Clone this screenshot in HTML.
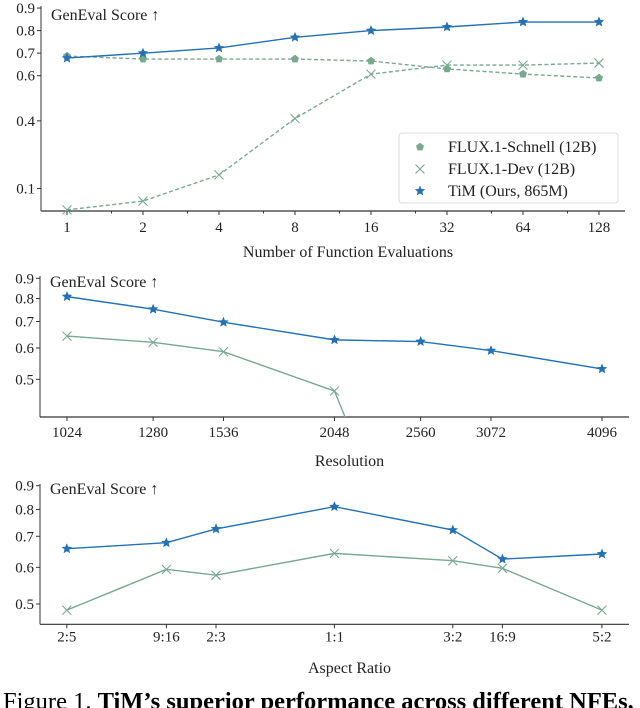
<!DOCTYPE html>
<html><head><meta charset="utf-8"><style>
html,body{margin:0;padding:0;background:#fff;}
svg{display:block;font-family:"Liberation Serif",serif;}
</style></head><body>
<svg id="fig" width="640" height="708" viewBox="0 0 640 708" xmlns="http://www.w3.org/2000/svg">
<defs>
<clipPath id="c2"><rect x="40" y="270" width="590" height="147"/></clipPath>
</defs>
<text x="3" y="709" font-size="24.5">Figure 1.  <tspan font-weight="bold">TiM’s superior performance across different NFEs.</tspan></text>
</svg>
<script>
// ---- Chart 1: NFE ----
const nfeSteps = [1, 2, 4, 8, 16, 32, 64, 128];
const nfeTickLabels = ["1", "2", "4", "8", "16", "32", "64", "128"];
const nfeTim = [0.678, 0.70, 0.723, 0.77, 0.80, 0.816, 0.838, 0.838];
const nfeSchnell = [0.687, 0.674, 0.674, 0.674, 0.665, 0.63, 0.607, 0.59];
const nfeDev = [0.005, 0.044, 0.16, 0.41, 0.607, 0.647, 0.647, 0.656];
const nfeYTicks = [0.1, 0.4, 0.6, 0.7, 0.8, 0.9];
// ---- Chart 2: Resolution ----
const resValues = [1024, 1280, 1536, 2048, 2560, 3072, 4096];
const resTickLabels = ["1024", "1280", "1536", "2048", "2560", "3072", "4096"];
const resTim = [0.809, 0.752, 0.697, 0.629, 0.623, 0.591, 0.531];
const resDev = [0.643, 0.620, 0.587, 0.467, 0.136];
const resYTicks = [0.5, 0.6, 0.7, 0.8, 0.9];
// ---- Chart 3: Aspect ratio ----
const arValues = [0.4, 0.5625, 0.6667, 1, 1.5, 1.7778, 2.5];
const arTickLabels = ["2:5", "9:16", "2:3", "1:1", "3:2", "16:9", "5:2"];
const arTim = [0.658, 0.678, 0.726, 0.811, 0.722, 0.625, 0.641];
const arDev = [0.485, 0.594, 0.577, 0.643, 0.620, 0.597, 0.485];
const arYTicks = [0.5, 0.6, 0.7, 0.8, 0.9];

const NS = "http://www.w3.org/2000/svg";
const svg = document.getElementById("fig");
const BLUE = "#2471b3", GREEN = "#79a891";
function mk(tag, attrs, parent) {
  const e = document.createElementNS(NS, tag);
  for (const k in attrs) e.setAttribute(k, attrs[k]);
  (parent || svg).appendChild(e);
  return e;
}
function starPath(cx, cy, r) {
  let d = "";
  for (let i = 0; i < 10; i++) {
    const rr = i % 2 ? r * 0.45 : r;
    const a = -Math.PI / 2 + i * Math.PI / 5;
    d += (i ? "L" : "M") + (cx + rr * Math.cos(a)).toFixed(1) + " " + (cy + rr * Math.sin(a)).toFixed(1);
  }
  return d + "Z";
}
function pentPath(cx, cy, r) {
  let d = "";
  for (let i = 0; i < 5; i++) {
    const a = -Math.PI / 2 + i * 2 * Math.PI / 5;
    d += (i ? "L" : "M") + (cx + r * Math.cos(a)).toFixed(1) + " " + (cy + r * Math.sin(a)).toFixed(1);
  }
  return d + "Z";
}
function marker(g, kind, x, y, color) {
  if (kind === "star") {
    const m = mk("path", {d: starPath(x, y, 5.5), fill: color}, g);
    
    
  } else if (kind === "pent") {
    const m = mk("path", {d: pentPath(x, y, 4.2), fill: color}, g);
    
    
  } else {
    const m = mk("path", {d: `M${x-4.5} ${y-4.5}L${x+4.5} ${y+4.5}M${x-4.5} ${y+4.5}L${x+4.5} ${y-4.5}`, stroke: color, "stroke-width": 1.1, fill: "none"}, g);
    
    
  }
}
function series(name, xs, ys, xf, yf, color, kind, dashed, clip) {
  const g = mk("g", clip ? {"clip-path": clip} : {});
  
  
  const n = Math.min(xs.length, ys.length);
  const pts = [];
  for (let i = 0; i < n; i++) pts.push([xf(xs[i]), yf(ys[i])]);
  const line = mk("polyline", {points: pts.map(p => p.join(",")).join(" "), fill: "none", stroke: color, "stroke-width": 1.4, "stroke-dasharray": dashed ? "4,2.5" : "none"}, g);
  
  
  pts.forEach(p => marker(g, kind, p[0], p[1], color));
}
function axes(id, x0, x1, yTop, yBot, xs, labels, xf, yticks, yf, xTitle, xTitleY, labelOff, yTitleY, minor) {
  const g = mk("g", {});
  
  
  const ly = mk("line", {x1: x0, y1: yTop, x2: x0, y2: yBot, stroke: "#333", "stroke-width": 1}, g);
  
  
  const lx = mk("line", {x1: x0, y1: yBot, x2: x1, y2: yBot, stroke: "#333", "stroke-width": 1.2}, g);
  
  
  xs.forEach((v, i) => {
    const x = xf(v);
    mk("line", {x1: x, y1: yBot, x2: x, y2: yBot + 4, stroke: "#333"}, g);
    const t = mk("text", {x: x, y: yBot + labelOff, "font-size": 15, "text-anchor": "middle", fill: "#222"}, g);
    t.textContent = labels[i];
    
    
  });
  (minor || []).forEach(v => {
    const x = xf(v);
    mk("line", {x1: x, y1: yBot, x2: x, y2: yBot + 2.5, stroke: "#333"}, g);
  });
  yticks.forEach(v => {
    const y = yf(v);
    mk("line", {x1: x0 - 4, y1: y, x2: x0, y2: y, stroke: "#333"}, g);
    const t = mk("text", {x: x0 - 6, y: y + 5, "font-size": 15, "text-anchor": "end", fill: "#222"}, g);
    t.textContent = v.toFixed(1);
    
    
  });
  const yt = mk("text", {x: x0 + 10, y: yTitleY, "font-size": 16, fill: "#222"}, g);
  yt.textContent = "GenEval Score ↑";
  
  
  const xt = mk("text", {x: (x0 + x1) / 2 + 15, y: xTitleY, "font-size": 16, "text-anchor": "middle", fill: "#222"}, g);
  xt.textContent = xTitle;
  
  
}

// Chart 1 scales
const x1f = v => 67 + Math.log2(v) * 76;
const y1f = v => 211 - v * 225.5;
axes("nfe", 41, 625, 6, 211, nfeSteps, nfeTickLabels, x1f, nfeYTicks, y1f, "Number of Function Evaluations", 257, 21, 20, [1.5, 3, 6, 12, 24, 48, 96]);
series("flux-schnell-series", nfeSteps, nfeSchnell, x1f, y1f, GREEN, "pent", true);
series("flux-dev-series", nfeSteps, nfeDev, x1f, y1f, GREEN, "x", true);
series("tim-series", nfeSteps, nfeTim, x1f, y1f, BLUE, "star", false);

// Legend
const lg = mk("g", {});


mk("rect", {x: 399, y: 133, width: 219, height: 70, rx: 3, fill: "#fff", stroke: "#ddd"}, lg);
const legItems = [["FLUX.1-Schnell (12B)", "pent", GREEN], ["FLUX.1-Dev (12B)", "x", GREEN], ["TiM (Ours, 865M)", "star", BLUE]];
legItems.forEach((it, i) => {
  const y = 147 + i * 22;
  const e = mk("g", {}, lg);
  
  
  marker(e, it[1], 420, y, it[2]);
  const t = mk("text", {x: 448, y: y + 5, "font-size": 16, fill: "#222"}, e);
  t.textContent = it[0];
});

// Chart 2 scales
const x2f = v => 67 + (Math.log2(v) - 10) * 267.5;
const y2f = v => 379.3 - 395.6 * Math.log10(v / 0.5);
axes("resolution", 40, 629, 276, 417, resValues, resTickLabels, x2f, resYTicks, y2f, "Resolution", 466, 20, 287);
series("res-flux-dev-series", resValues, resDev, x2f, y2f, GREEN, "x", false, "url(#c2)");
series("res-tim-series", resValues, resTim, x2f, y2f, BLUE, "star", false);

// Chart 3 scales
const x3f = v => 334.4 + Math.log2(v) * 202.4;
const y3f = v => 604 - 463.4 * Math.log10(v / 0.5);
axes("aspect", 40, 629, 484, 624.3, arValues, arTickLabels, x3f, arYTicks, y3f, "Aspect Ratio", 673, 17, 494);
series("ar-flux-dev-series", arValues, arDev, x3f, y3f, GREEN, "x", false);
series("ar-tim-series", arValues, arTim, x3f, y3f, BLUE, "star", false);
</script>
</body></html>
